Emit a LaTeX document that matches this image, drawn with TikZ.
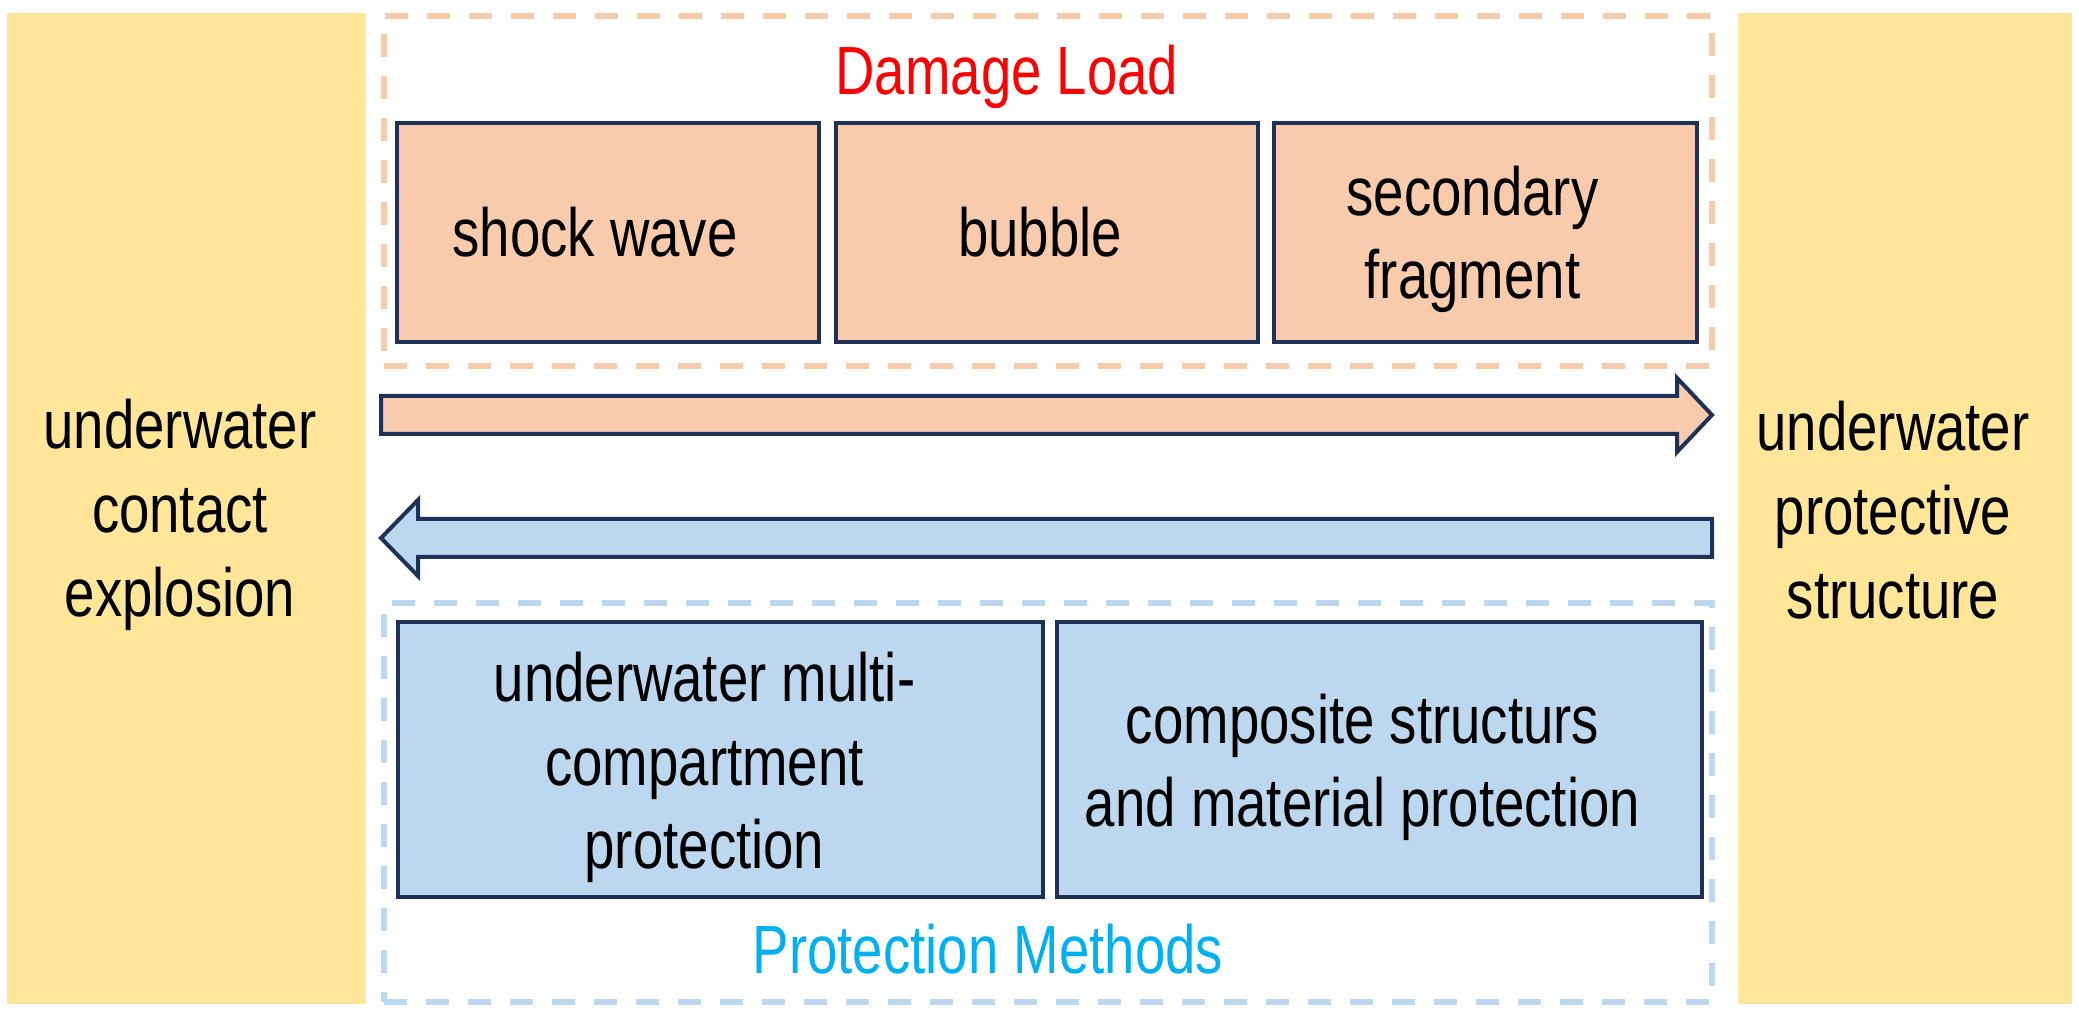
\documentclass[tikz,border=0pt]{standalone}
\usepackage{fontspec}
\setmainfont{Liberation Sans}[FakeStretch=0.8]
\definecolor{yel}{HTML}{FFE699}
\definecolor{peach}{HTML}{F8CBAD}
\definecolor{lblue}{HTML}{BDD7EE}
\definecolor{navy}{HTML}{1F3157}
\definecolor{redt}{HTML}{FF0000}
\definecolor{cyant}{HTML}{00B0F0}
\begin{document}
\begin{tikzpicture}[x=0.01cm,y=-0.01cm,
  txt/.style={font=\fontsize{19.4}{23.8}\selectfont, align=center, inner sep=0pt},
  side/.style={fill=yel, draw=none, inner sep=0pt, minimum height=9.91cm},
  pbox/.style={draw=navy, fill=peach, line width=0.04cm, inner sep=0pt, minimum width=4.22cm, minimum height=2.19cm},
  bbox/.style={draw=navy, fill=lblue, line width=0.04cm, inner sep=0pt, minimum width=6.45cm, minimum height=2.75cm},
  pdash/.style={draw=peach, line width=0.06cm, dash pattern=on 0.23cm off 0.19cm, inner sep=0pt, minimum width=13.28cm},
  bdash/.style={draw=lblue, line width=0.06cm, dash pattern=on 0.23cm off 0.19cm, inner sep=0pt, minimum width=13.28cm},
  barrow/.style={line width=0.04cm, draw=navy, line join=miter}
]
\useasboundingbox[fill=white] (0,0) rectangle (2079,1016);

% side blocks
\node[side, minimum width=3.59cm] (L) at (186.5,508.5) {};
\node[side, minimum width=3.34cm] (R) at (1905,508.5) {};
\node[txt] (Lt) at (180,515) {underwater\\contact\\explosion};
\node[txt] (Rt) at (1893,510) {underwater\\protective\\structure};

% dashed group frames
\node[pdash, minimum height=3.50cm] (DL) at (1048,191) {};
\node[bdash, minimum height=3.99cm] (PM) at (1048,802.5) {};

% group titles
\node[txt, text=redt] (DLt) at (1007,77) {Damage Load};
\node[txt, text=cyant] (PMt) at (988,949) {Protection Methods};

% damage load boxes
\node[pbox, label={[txt, xshift=-0.13cm]center:shock wave}] (sw) at (608,232.5) {};
\node[pbox, label={[txt, xshift=-0.07cm]center:bubble}] (bu) at (1047,232.5) {};
\node[pbox, label={[txt, xshift=-0.13cm, yshift=-0.07cm]center:secondary\\fragment}] (sf) at (1485.5,232.5) {};

% protection boxes
\node[bbox, label={[txt, xshift=-0.16cm, yshift=-0.08cm]center:underwater multi-\\compartment\\protection}] (mc) at (720.5,759.5) {};
\node[bbox, label={[txt, xshift=-0.17cm, yshift=-0.08cm]center:composite structurs\\and material protection}] (cs) at (1379.5,759.5) {};

% block arrows
\coordinate (a1s) at (381,415);
\coordinate (a1e) at (1712,415);
\draw[barrow, fill=peach] (a1s) ++(0,-19) -- (1677,396) -- (1677,378) -- (a1e) -- (1677,452) -- (1677,434) -- (381,434) -- cycle;
\coordinate (a2s) at (1712,538);
\coordinate (a2e) at (381,538);
\draw[barrow, fill=lblue] (a2s) ++(0,-19) -- (418,519) -- (418,500) -- (a2e) -- (418,576) -- (418,557) -- (1712,557) -- cycle;
\end{tikzpicture}
\end{document}
